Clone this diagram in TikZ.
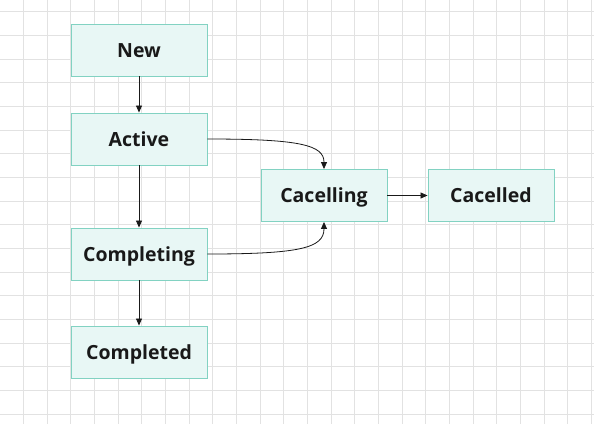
\documentclass[tikz,border=0pt]{standalone}
\usepackage{fontspec}
\setmainfont{Open Sans}
\usetikzlibrary{arrows.meta}
\definecolor{boxfill}{HTML}{E8F7F5}
\definecolor{boxline}{HTML}{82D2C2}
\definecolor{gridline}{HTML}{E2E2E2}
\tikzset{
  state/.style={draw=boxline, fill=boxfill, line width=0.9pt, minimum width=136pt, minimum height=52pt, inner sep=0pt, text height=14pt, text depth=0pt, font=\fontsize{19.5}{22}\selectfont\bfseries, text=black!90},
  conn/.style={draw=black!90, line width=0.8pt, -{Triangle[length=7pt,width=6pt]}}
}
\begin{document}
\begin{tikzpicture}[x=1pt,y=-1pt]
\useasboundingbox (0,0) rectangle (594,424);
\fill[white] (0,0) rectangle (594,424);
\foreach \i in {0,...,24} {
  \draw[gridline, line width=0.6pt] ({23.3+23.67*\i},0) -- ({23.3+23.67*\i},424);
}
\foreach \j in {0,...,17} {
  \draw[gridline, line width=0.6pt] (0,{11.7+23.67*\j}) -- (594,{11.7+23.67*\j});
}
\node[state] (new) at (139,50) {New};
\node[state] (active) at (139,139) {Active};
\node[state] (completing) at (139,254) {Completing};
\node[state] (completed) at (139,352) {Completed};
\node[state, minimum width=126pt] (cacelling) at (324,195.5) {Cacelling};
\node[state, minimum width=126pt] (cacelled) at (491,195.5) {Cacelled};
\draw[conn] (new) -- (active);
\draw[conn] (active) -- (completing);
\draw[conn] (completing) -- (completed);
\draw[conn] (cacelling) -- (cacelled);
\draw[conn] (active.east) .. controls (300,139) and (324,145) .. (cacelling.north);
\draw[conn] (completing.east) .. controls (300,254) and (324,248) .. (cacelling.south);
\end{tikzpicture}
\end{document}
